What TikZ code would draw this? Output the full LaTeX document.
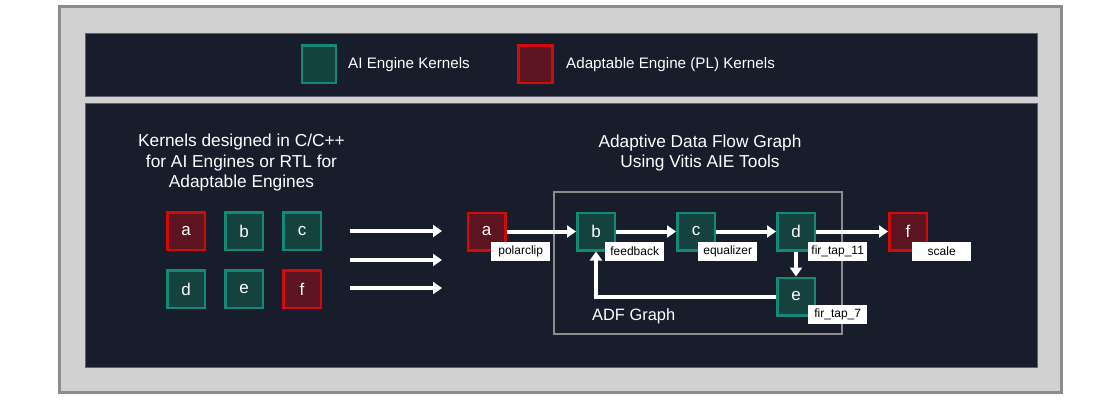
\documentclass[tikz,border=0pt]{standalone}
\usepackage{fontspec}
\setmainfont{Liberation Sans}
\usetikzlibrary{arrows.meta,positioning}
\definecolor{navy}{HTML}{181D2C}
\definecolor{bandedge}{HTML}{5E6270}
\definecolor{panel}{HTML}{D1D1D1}
\definecolor{frame}{HTML}{8C8C8C}
\definecolor{aiefill}{HTML}{15423F}
\definecolor{aieline}{HTML}{148A76}
\definecolor{plfill}{HTML}{5C1420}
\definecolor{plline}{HTML}{D20A0A}
\tikzstyle{aie}=[rectangle,draw=aieline,fill=aiefill,line width=2.5pt,minimum size=37.5pt,inner sep=0pt,text=white,font=\fontsize{17}{17}\selectfont]
\tikzstyle{pl}=[aie,draw=plline,fill=plfill]
\tikzstyle{tag}=[rectangle,fill=white,minimum width=59pt,minimum height=19pt,inner sep=0pt,text=black,font=\fontsize{12}{12}\selectfont]
\tikzstyle{flow}=[draw=white,line width=4pt,-{Triangle[length=9pt,width=12pt]}]
\tikzstyle{caption}=[text=white,align=center,inner sep=0pt,font=\fontsize{17.3}{20.5}\selectfont]
\tikzstyle{band}=[fill=navy,draw=bandedge,line width=0.8pt]

\begin{document}
\begin{tikzpicture}[x=1pt,y=-1pt]
  \useasboundingbox[fill=white] (0,0) rectangle (1120,400);
  % frame and the two dark bands
  \draw[fill=panel,draw=frame,line width=3pt] (59.5,6.5) rectangle (1061.5,392.5);
  \draw[band] (85,33) rectangle (1037,96);
  \draw[band] (85,103) rectangle (1037,367);

  % legend
  \node[aie,minimum width=34pt,minimum height=37.5pt] (key-aie) at (319,64) {};
  \node[caption,anchor=west,font=\fontsize{15.2}{18}\selectfont] (key-aie-text) at (348,65) {AI Engine Kernels};
  \node[pl,minimum width=34pt,minimum height=37.5pt] (key-pl) at (535.5,64) {};
  \node[caption,anchor=west,font=\fontsize{15.2}{18}\selectfont] (key-pl-text) at (566,65) {Adaptable Engine (PL) Kernels};

  % kernels on their own
  \node[caption] (left-title) at (241.5,163)
    {Kernels designed in C/C++\\for AI Engines or RTL for\\Adaptable Engines};
  \foreach \name/\x/\y/\kind in {a/186/231/pl, b/244/231/aie, c/302/231/aie,
                                 d/186/289/aie, e/244/289/aie, f/302/289/pl}
    \node[\kind] (k-\name) at (\x,\y) {\name};
  \foreach \i/\y in {1/231,2/260,3/288} {
    \coordinate (from-\i) at (350,\y);
    \coordinate (to-\i) at (442,\y);
    \draw[flow] (from-\i) -- (to-\i);
  }

  % adaptive data flow graph
  \node[caption] (right-title) at (700,153)
    {Adaptive Data Flow Graph\\Using Vitis AIE Tools};
  \draw[frame,line width=2pt] (554,192) rectangle (842,334);
  \node[caption,anchor=west,font=\fontsize{16.4}{18}\selectfont] (adf-text) at (592,316) {ADF Graph};
  \foreach \name/\x/\y/\kind in {a/486.5/231.5/pl, b/596/231.5/aie, c/696/231.5/aie,
                                 d/796/231.5/aie, e/796/296.5/aie, f/908/231.5/pl}
    \node[\kind] (\name) at (\x,\y) {\name};
  \foreach \from/\to in {a/b,b/c,c/d,d/f,d/e}
    \draw[flow] (\from) -- (\to);
  \draw[flow] (e.west) -| (b.south);

  % kernel names
  \foreach \name/\x/\y/\text in {a/491/251.5/polarclip, b/605/251.5/feedback,
                                 c/698/251.5/equalizer, d/808/251.5/fir\_tap\_11,
                                 f/912/251.5/scale, e/808/314.5/fir\_tap\_7}
    \node[tag,anchor=west] (\name-tag) at (\x,\y) {\text};
\end{tikzpicture}
\end{document}
